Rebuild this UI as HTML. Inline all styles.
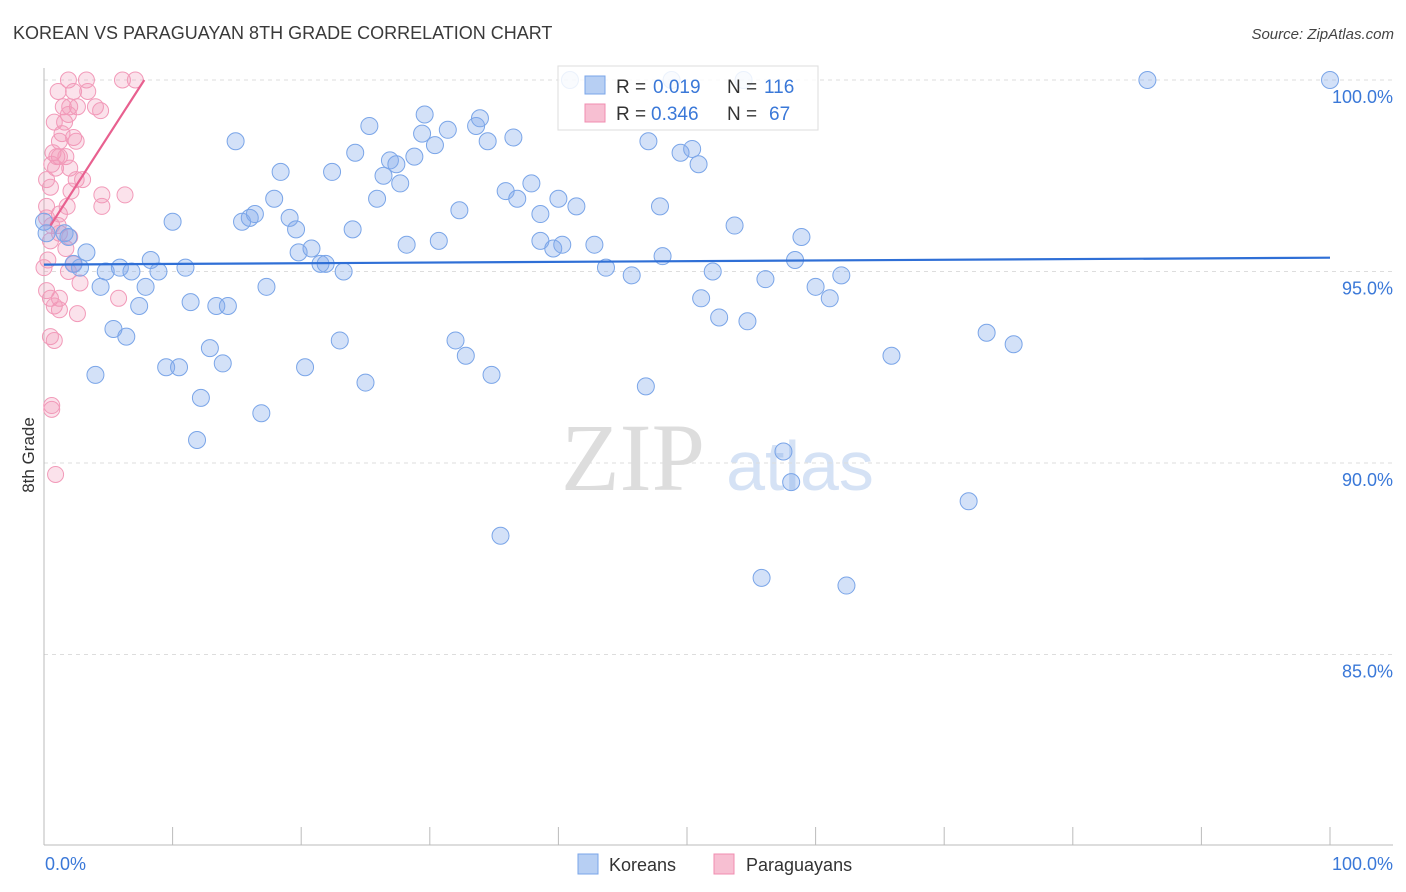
<!DOCTYPE html>
<html><head><meta charset="utf-8"><style>
body{margin:0;background:#fff;font-family:"Liberation Sans",sans-serif;}
</style></head><body>
<svg id="chart" width="1406" height="892" xmlns="http://www.w3.org/2000/svg" style="display:block">
<text x="13" y="39" font-size="18" fill="#3a3a3a" font-family="Liberation Sans">KOREAN VS PARAGUAYAN 8TH GRADE CORRELATION CHART</text>
<text x="1394" y="39" font-size="15" fill="#444" text-anchor="end" font-style="italic">Source: ZipAtlas.com</text>
<g>
<text x="633" y="490" font-size="96" fill="#ddd" text-anchor="middle" font-family="Liberation Serif">ZIP</text>
<text x="800" y="490" font-size="70" fill="#d5e2f5" text-anchor="middle">atlas</text>
</g>
<g id="grid"></g>
<g id="axes"></g>
<g id="points"></g>
<g id="lines"></g>
<text transform="translate(34,455) rotate(-90)" font-size="17" fill="#333" text-anchor="middle">8th Grade</text>
<g>
<rect x="558" y="66" width="260" height="64" fill="#fff" fill-opacity="0.85" stroke="#ddd"/>
<rect x="585" y="76" width="20" height="18" fill="#b7cff3" stroke="#7aa5e8"/>
<text x="616" y="93" font-size="19" fill="#333">R =</text>
<text x="653" y="93" font-size="19" fill="#3a78d8">0.019</text>
<text x="727" y="93" font-size="19" fill="#333">N =</text>
<text x="764" y="93" font-size="19" fill="#3a78d8">116</text>
<rect x="585" y="104" width="20" height="18" fill="#f7bfd2" stroke="#f08cb0"/>
<text x="616" y="120" font-size="19" fill="#333">R =</text>
<text x="651" y="120" font-size="19" fill="#3a78d8">0.346</text>
<text x="727" y="120" font-size="19" fill="#333">N =</text>
<text x="769" y="120" font-size="19" fill="#3a78d8">67</text>
</g>
<g>
<rect x="578" y="854" width="20" height="20" fill="#b7cff3" stroke="#7aa5e8"/>
<text x="609" y="871" font-size="18" fill="#333">Koreans</text>
<rect x="714" y="854" width="20" height="20" fill="#f7bfd2" stroke="#f08cb0"/>
<text x="746" y="871" font-size="18" fill="#333">Paraguayans</text>
</g>
</svg>
<script>
const koreanX=[40.9,48.8,54.4,85.8,100,14.9,25.3,29.6,29.4,31.4,33.6,33.9,34.5,36.5,24.2,26.9,27.4,28.8,30.4,47.0,49.5,50.4,50.9,18.4,22.4,26.4,27.7,25.9,17.9,37.9,35.9,36.8,40.0,41.4,38.6,32.3,47.9,10.0,15.4,16.0,16.4,19.1,19.6,24.0,53.7,58.9,0,0.2,1.6,1.9,3.3,2.8,2.3,4.8,5.9,6.8,8.3,8.9,11.0,4.4,7.9,7.4,11.4,13.4,14.3,17.3,19.8,20.8,21.5,21.9,23.3,28.2,30.7,38.6,39.6,40.3,42.8,43.7,45.7,48.1,52.0,56.1,58.4,60.0,61.1,62.0,51.1,52.5,54.7,5.4,6.4,4.0,9.5,10.5,12.9,13.9,12.2,11.9,16.9,20.3,23.0,25.0,32.0,32.8,34.8,46.8,65.9,73.3,75.4,57.5,58.1,71.9,35.5,55.8,62.4];
const koreanY=[100,100,100,100,100,98.4,98.8,99.1,98.6,98.7,98.8,99.0,98.4,98.5,98.1,97.9,97.8,98.0,98.3,98.4,98.1,98.2,97.8,97.6,97.6,97.5,97.3,96.9,96.9,97.3,97.1,96.9,96.9,96.7,96.5,96.6,96.7,96.3,96.3,96.4,96.5,96.4,96.1,96.1,96.2,95.9,96.3,96.0,96.0,95.9,95.5,95.1,95.2,95.0,95.1,95.0,95.3,95.0,95.1,94.6,94.6,94.1,94.2,94.1,94.1,94.6,95.5,95.6,95.2,95.2,95.0,95.7,95.8,95.8,95.6,95.7,95.7,95.1,94.9,95.4,95.0,94.8,95.3,94.6,94.3,94.9,94.3,93.8,93.7,93.5,93.3,92.3,92.5,92.5,93.0,92.6,91.7,90.6,91.3,92.5,93.2,92.1,93.2,92.8,92.3,92.0,92.8,93.4,93.1,90.3,89.5,89.0,88.1,87.0,86.8];
const paraX=[1.9,3.3,6.1,7.1,1.1,2.3,3.4,1.5,2.0,2.6,4.0,4.4,1.9,0.8,1.6,1.4,2.3,2.5,1.2,0.7,1.0,1.2,1.7,0.6,0.9,2.0,0.2,2.5,3.0,2.1,4.5,6.3,4.5,1.8,1.2,0.2,0.6,1.1,1.2,0.5,1.7,2.0,0.3,0,1.9,2.3,2.8,0.2,0.5,1.2,0.8,1.2,2.6,5.8,0.5,0.8,0.6,0.6,0.9,0.2,0.5];
const paraY=[100,100,100,100,99.7,99.7,99.7,99.3,99.3,99.3,99.3,99.2,99.1,98.9,98.9,98.6,98.5,98.4,98.4,98.1,98.0,98.0,98.0,97.8,97.7,97.7,97.4,97.4,97.4,97.1,97.0,97.0,96.7,96.7,96.5,96.4,96.2,96.2,96.0,95.8,95.6,95.9,95.3,95.1,95.0,95.2,94.7,94.5,94.3,94.3,94.1,94.0,93.9,94.3,93.3,93.2,91.5,91.4,89.7,96.7,97.2];
const koreanTrend=[[0,95.18],[100,95.36]];
const paraTrend=[[0.5,96.2],[7.8,100]];
const yTicks=[100,95,90,85];
const xTickVals=[0,10,20,30,40,50,60,70,80,90,100];

const NS="http://www.w3.org/2000/svg";
const X0=44,X1=1330,YT=80,PX_PER=38.3;
const sx=v=>X0+(X1-X0)*v/100;
const sy=v=>YT+(100-v)*PX_PER;
function mk(tag,attrs,parent){const e=document.createElementNS(NS,tag);for(const k in attrs)e.setAttribute(k,attrs[k]);parent.appendChild(e);return e;}
const grid=document.getElementById('grid'),axes=document.getElementById('axes'),pts=document.getElementById('points'),lines=document.getElementById('lines');
yTicks.forEach(t=>{
 const l=mk('line',{x1:X0,x2:1393,y1:sy(t),y2:sy(t),stroke:'#ddd','stroke-dasharray':'4,4'},grid);
 
 
 const tx=mk('text',{x:1393,y:sy(t)+23,'font-size':18,fill:'#3a78d8','text-anchor':'end'},axes);
 tx.textContent=t.toFixed(1)+'%';
 
 
});
const ya=mk('line',{x1:X0,x2:X0,y1:68,y2:845,stroke:'#bbb'},axes);


const xa=mk('line',{x1:X0,x2:1393,y1:845,y2:845,stroke:'#bbb'},axes);


xTickVals.forEach(t=>{
 const l=mk('line',{x1:sx(t),x2:sx(t),y1:827,y2:845,stroke:'#bbb'},axes);
 
 
});
const xl0=mk('text',{x:45,y:870,'font-size':18,fill:'#3a78d8'},axes);xl0.textContent='0.0%';


const xl1=mk('text',{x:1393,y:870,'font-size':18,fill:'#3a78d8','text-anchor':'end'},axes);xl1.textContent='100.0%';


paraX.forEach((v,i)=>{
 const c=mk('circle',{cx:sx(v),cy:sy(paraY[i]),r:8,fill:'rgba(242,150,182,0.28)',stroke:'#f29ab9','stroke-width':1},pts);
 
 
});
koreanX.forEach((v,i)=>{
 const c=mk('circle',{cx:sx(v),cy:sy(koreanY[i]),r:8.5,fill:'rgba(130,170,235,0.35)',stroke:'#7aa5e8','stroke-width':1},pts);
 
 
});
const kl=mk('line',{x1:sx(koreanTrend[0][0]),y1:sy(koreanTrend[0][1]),x2:sx(koreanTrend[1][0]),y2:sy(koreanTrend[1][1]),stroke:'#2f6fd6','stroke-width':2.2},lines);


const pl=mk('line',{x1:sx(paraTrend[0][0]),y1:sy(paraTrend[0][1]),x2:sx(paraTrend[1][0]),y2:sy(paraTrend[1][1]),stroke:'#e8608f','stroke-width':2.2},lines);


</script>
</body></html>
